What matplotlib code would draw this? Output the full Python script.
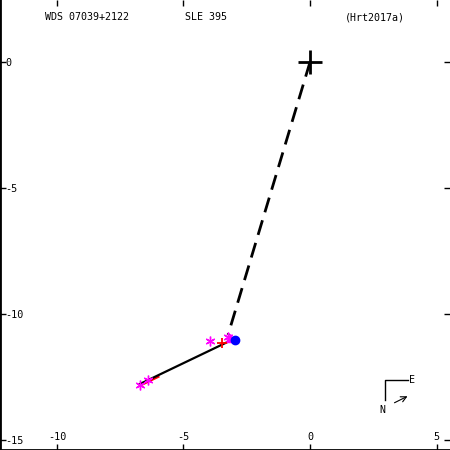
import matplotlib
matplotlib.use("Agg")
import matplotlib.pyplot as plt

plt.rcParams['font.family'] = ['DejaVu Sans Mono']
plt.rcParams['axes.unicode_minus'] = False

# Data (arcsec offsets)
primary = (0.0, 0.0)
asterisk_x = [-6.72, -6.40, -3.95, -3.24]
asterisk_y = [-12.82, -12.62, -11.07, -10.91]
tri_x = [-3.15]
tri_y = [-10.95]
red_x = [-3.48]
red_y = [-11.17]
blue_x = [-2.96]
blue_y = [-11.05]
fit_x = [-6.72, -2.92]
fit_y = [-12.78, -10.95]
dash_x = [0.0, -3.24]
dash_y = [0.0, -10.83]
resid_x = [-6.72, -6.0]
resid_y = [-12.84, -12.49]

xticks = [-10, -5, 0, 5]
yticks = [0, -5, -10, -15]

fig = plt.figure(figsize=(4.5, 4.5), dpi=100)
ax = fig.add_axes([0, 0, 1, 1])
ax.set_xlim(-12.25, 5.53)
ax.set_ylim(-15.4, 2.46)

ax.plot(dash_x, dash_y, color='black', lw=2, dashes=(5.5, 3))
ax.plot(resid_x, resid_y, color='red', lw=1.8)
ax.plot(fit_x, fit_y, color='black', lw=1.6)
ax.plot(asterisk_x, asterisk_y, ls='none', marker=(6, 2, 0), ms=7, mec='magenta', mew=1.0)
ax.plot(tri_x, tri_y, ls='none', marker='^', ms=6, color='magenta')
ax.plot(red_x, red_y, ls='none', marker='+', ms=7, mec='red', mew=1.3)
ax.plot(blue_x, blue_y, ls='none', marker='o', ms=6, color='blue')
ax.plot([primary[0]], [primary[1]], ls='none', marker='+', ms=17, mec='black', mew=2)

ax.set_xticks(xticks)
ax.set_yticks(yticks)
ax.set_xticklabels([str(t) for t in xticks])
ax.set_yticklabels([str(t) for t in yticks])
ax.tick_params(axis='both', direction='in', length=4, width=1, labelsize=7.3,
               top=True, right=True)
ax.tick_params(axis='x', pad=-13)
ax.tick_params(axis='y', pad=-4)
for lab in ax.get_yticklabels():
    lab.set_horizontalalignment('left')
ax.spines['top'].set_visible(False)
ax.spines['right'].set_visible(False)
ax.spines['left'].set_linewidth(2)
ax.spines['bottom'].set_linewidth(2)

# Header
def px(x, y):
    return x / 450, 1 - y / 450
fs = 7.2
ax.text(*px(45, 17), 'WDS 07039+2122', transform=ax.transAxes, fontsize=fs, va='center', ha='left')
ax.text(*px(185, 17), 'SLE 395', transform=ax.transAxes, fontsize=fs, va='center', ha='left')
ax.text(*px(345, 17), '(Hrt2017a)', transform=ax.transAxes, fontsize=fs, va='center', ha='left')

# Compass
ax.plot([px(385, 0)[0], px(385, 0)[0], px(408, 0)[0]],
        [px(0, 400)[1], px(0, 380)[1], px(0, 380)[1]],
        transform=ax.transAxes, color='black', lw=1)
ax.text(*px(412, 380), 'E', transform=ax.transAxes, fontsize=fs, va='center', ha='center')
ax.text(*px(382, 410), 'N', transform=ax.transAxes, fontsize=fs, va='center', ha='center')
ax.annotate('', xy=px(410, 395), xytext=px(392, 404), xycoords='axes fraction',
            arrowprops=dict(arrowstyle='->', lw=0.8, color='black'))

fig.savefig('out.png', dpi=100)
